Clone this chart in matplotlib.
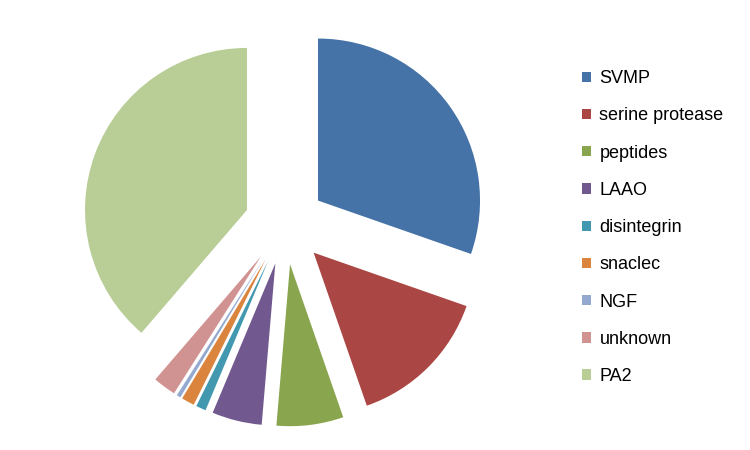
import matplotlib.pyplot as plt
from matplotlib.patches import Patch

labels = ['SVMP', 'serine protease', 'peptides', 'LAAO', 'disintegrin',
          'snaclec', 'NGF', 'unknown', 'PA2']
shares = [30.5, 14.4, 6.7, 5.0, 1.0, 1.3, 0.4, 2.3, 38.9]
colors = ['#4572A7', '#AA4643', '#89A54E', '#71588F', '#4198AF',
          '#DB843D', '#93A9CF', '#D19392', '#B9CD96']

plt.rcParams['font.family'] = ['Liberation Sans', 'DejaVu Sans']

fig = plt.figure(figsize=(7.5, 4.5), dpi=100)
# pie centre at roughly (285, 224) px, radius 162 px
ax = fig.add_axes([(285 - 210.6) / 750, (226 - 210.6) / 450, 421.2 / 750, 421.2 / 450])
ax.pie(shares, colors=colors, startangle=90, counterclock=False,
       explode=[0.25] * len(shares), radius=1.0,
       wedgeprops={'linewidth': 0})
ax.set_xlim(-1.3, 1.3)
ax.set_ylim(-1.3, 1.3)
ax.set_aspect('equal')
ax.axis('off')

handles = [Patch(facecolor=c, edgecolor='none') for c in colors]
fig.legend(handles, labels, loc='upper left', bbox_to_anchor=(566 / 750, 1 - 54 / 450),
           frameon=False, fontsize=13, labelspacing=1.12,
           handlelength=0.5, handleheight=0.5, handletextpad=0.45)

fig.savefig('out.png', dpi=100)
